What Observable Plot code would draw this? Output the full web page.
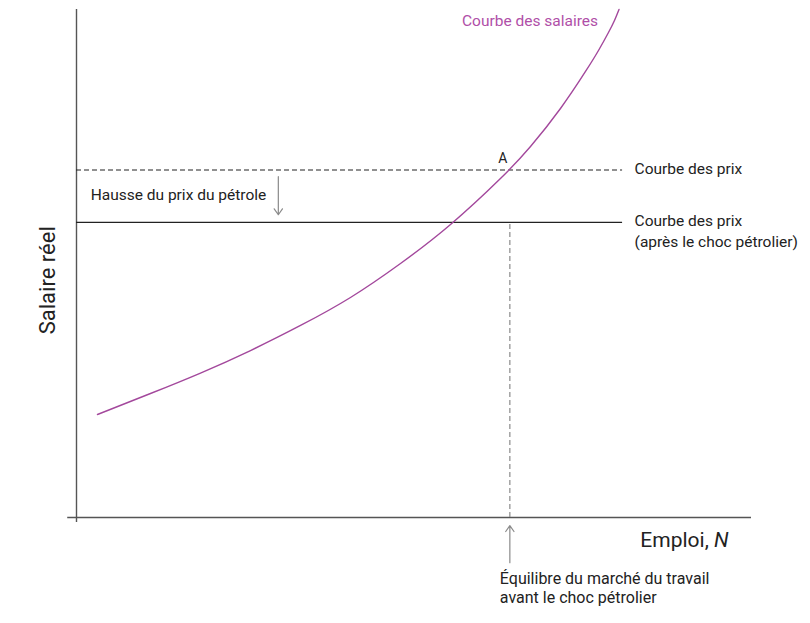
<!DOCTYPE html>
<html><head><meta charset="utf-8">
<script src="https://cdn.jsdelivr.net/npm/d3@7"></script>
<script src="https://cdn.jsdelivr.net/npm/@observablehq/plot@0.6"></script>
<style>body{margin:0;background:#fff;} svg{font-family:Roboto,sans-serif;}</style>
</head><body><div id="chart"></div>
<script>
// Wage-setting curve (Courbe des salaires): employment N vs real wage
const wageN = [3.11, 10.96, 18.37, 25.78, 33.19, 40.59, 48.00, 55.41, 62.81, 67.26, 71.70, 75.41, 77.33, 78.81, 79.70, 80.37];
const wageW = [20.28, 24.41, 28.44, 32.87, 37.80, 43.31, 50.00, 57.68, 66.73, 73.03, 80.51, 87.80, 91.93, 95.47, 97.83, 100.0];
// Price-setting curves: before and after the oil shock
const priceLevels = [68.4, 58.1];
const priceLabels = ["Courbe des prix", "Courbe des prix\n(après le choc pétrolier)"];
const priceEnd = 80.9;
const equilibriumN = 64.2;
const shockArrowN = 29.9;

const wage = wageN.map((n, i) => ({n, w: wageW[i]}));
const prices = priceLevels.map((w, i) => ({w, label: priceLabels[i], dashed: i === 0}));
const ink = "#222";
const purple = "#a3489c";
const grey = "#8a8a8a";

const chart = Plot.plot({
  width: 810, height: 623,
  marginLeft: 76, marginRight: 59, marginTop: 9, marginBottom: 106,
  x: {domain: [0, 100], axis: null},
  y: {domain: [0, 100], axis: null},
  marks: [
    // axes
    Plot.ruleX([0], {y1: -1, y2: 100, stroke: "#555", strokeWidth: 1.4}),
    Plot.ruleY([0], {x1: -1.3, x2: 100, stroke: "#555", strokeWidth: 1.4}),
    // equilibrium drop line
    Plot.ruleX([equilibriumN], {y1: 0, y2: priceLevels[1], stroke: grey, strokeDasharray: "5,3", strokeWidth: 1.2}),
    // price curves
    Plot.ruleY(prices.filter(d => d.dashed), {y: "w", x1: 0, x2: priceEnd, stroke: ink, strokeDasharray: "5,3", strokeWidth: 1.1}),
    Plot.ruleY(prices.filter(d => !d.dashed), {y: "w", x1: 0, x2: priceEnd, stroke: ink, strokeWidth: 1.3}),
    Plot.text(prices, {x: priceEnd, y: "w", text: "label", textAnchor: "start", lineAnchor: "top", dx: 12, dy: -11, fontSize: 15.5, fill: ink, lineHeight: 1.35}),
    // wage curve
    Plot.line(wage, {x: "n", y: "w", curve: "natural", stroke: purple, strokeWidth: 1.4}),
    Plot.text([wage[wage.length - 1]], {x: "n", y: "w", text: () => "Courbe des salaires", textAnchor: "end", dx: -21, dy: 12, fontSize: 15.5, fill: "#b04fa8"}),
    // point A
    Plot.text([{n: equilibriumN, w: priceLevels[0]}], {x: "n", y: "w", text: () => "A", dx: -7, dy: -12, fontSize: 14, fill: ink}),
    // oil price shock arrow
    Plot.arrow([{y1: priceLevels[0] - 1.3, y2: priceLevels[1] + 1.5}], {x: shockArrowN, y1: "y1", y2: "y2", stroke: grey, strokeWidth: 1.2, headLength: 9, headAngle: 70}),
    Plot.text(["Hausse du prix du pétrole"], {x: 2.1, y: (priceLevels[0] + priceLevels[1]) / 2, text: d => d, textAnchor: "start", fontSize: 15.5, fill: ink, dy: -1}),
    // equilibrium arrow below axis
    Plot.arrow([{y1: -8.9, y2: -1.6}], {x: equilibriumN, y1: "y1", y2: "y2", stroke: grey, strokeWidth: 1.2, headLength: 9, headAngle: 70}),
    Plot.text(["Équilibre du marché du travail\navant le choc pétrolier"], {x: equilibriumN, y: -10.4, text: d => d, textAnchor: "start", lineAnchor: "top", dx: -10, fontSize: 16, fill: ink, lineHeight: 1.2}),
    // axis labels
    Plot.text(["Emploi, N"], {x: 96.6, y: -4.5, text: d => d, textAnchor: "end", fontSize: 21, fill: ink}),
    Plot.text(["Salaire réel"], {x: -4.3, y: 46.7, text: d => d, rotate: -90, fontSize: 22, fill: ink})
  ]
});

// italic N in the x-axis label
d3.select(chart).selectAll("text").filter(function() { return this.textContent === "Emploi, N"; })
  .each(function() {
    const t = d3.select(this);
    t.text("");
    t.append("tspan").text("Emploi, ");
    t.append("tspan").attr("font-style", "italic").text("N");
  });

document.getElementById("chart").append(chart);
</script></body></html>
